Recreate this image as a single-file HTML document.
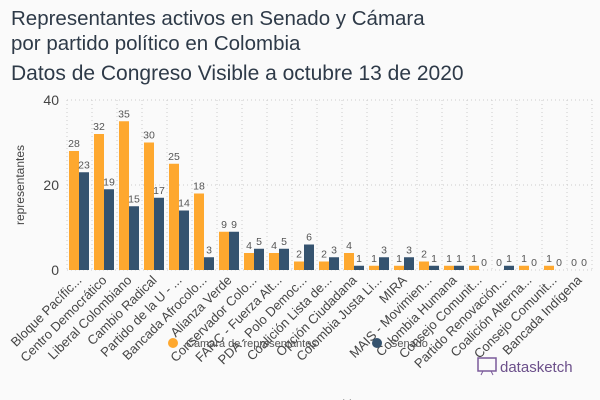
<!DOCTYPE html>
<html><head><meta charset="utf-8"><style>
html,body{margin:0;padding:0;background:#fafafa;}
svg{display:block;font-family:"Liberation Sans",sans-serif;}
</style></head><body>
<svg id="c" width="600" height="400">
<rect width="600" height="400" fill="#fafafa"/>
<text x="11" y="25" font-size="20.5" fill="#2e3a48">Representantes activos en Senado y Cámara</text>
<text x="11" y="50" font-size="20.5" fill="#2e3a48">por partido político en Colombia</text>
<text x="11" y="80" font-size="21" fill="#2e3a48">Datos de Congreso Visible a octubre 13 de 2020</text>
<text transform="translate(24,185) rotate(-90)" text-anchor="middle" font-size="12" fill="#444">representantes</text>
<g id="grid"></g>
<g id="bars"></g>
<g id="xl"></g>
<g>
<circle cx="173" cy="343" r="5" fill="#fea82f"/>
<text x="186" y="347" font-size="11" fill="#555">Cámara de representantes</text>
<circle cx="377" cy="343" r="5" fill="#35536f"/>
<text x="390" y="347" font-size="11" fill="#555">Senado</text>
</g>
<g>
<rect x="478" y="358" width="18" height="13" fill="none" stroke="#7a5a9a" stroke-width="1.5"/>
<line x1="483" y1="371" x2="481" y2="375" stroke="#7a5a9a"/>
<line x1="491" y1="371" x2="493" y2="375" stroke="#7a5a9a"/>
<text x="500" y="372" font-size="15" fill="#6b4f8a">datasketch</text>
</g>
<text x="340" y="408" text-anchor="middle" font-size="12" fill="#444">partido</text>
</svg>
<script>
const categories=["Bloque Pacífic...","Centro Democrático","Liberal Colombiano","Cambio Radical","Partido de la U - ...","Bancada Afrocolo...","Alianza Verde","Conservador Colo...","FARC - Fuerza Alt...","PDA - Polo Democ...","Coalición Lista de...","Opción Ciudadana","Colombia Justa Li...","MIRA","MAIS - Movimien...","Colombia Humana","Consejo Comunit...","Partido Renovación...","Coalición Alterna...","Consejo Comunit...","Bancada Indígena"];
const camara=[28,32,35,30,25,18,9,4,4,2,2,4,1,1,2,1,1,0,1,1,0];
const senado=[23,19,15,17,14,3,9,5,5,6,3,1,3,3,1,1,0,1,0,0,0];
const yTicks=[0,20,40];
const NS="http://www.w3.org/2000/svg";
const x0=67,colW=25,yTop=100,yBot=270,yMax=40;
const y=v=>yBot-(v/yMax)*(yBot-yTop);
const xc=i=>x0+i*colW;
const x1=x0+categories.length*colW;
function mk(t,a,p){const e=document.createElementNS(NS,t);for(const k in a)e.setAttribute(k,a[k]);p.appendChild(e);return e;}
const grid=document.getElementById('grid'),bars=document.getElementById('bars'),xl=document.getElementById('xl');
yTicks.forEach(t=>{
 const l=mk('line',{x1:x0,x2:x1,y1:y(t),y2:y(t),stroke:'#ccc','stroke-dasharray':'1,3'},grid);
 
 
 const tx=mk('text',{x:x0-8,y:y(t)+5,'text-anchor':'end','font-size':'14',fill:'#444'},grid);
 tx.textContent=t;
 
 
});
for(let i=0;i<=categories.length;i++){
 const l=mk('line',{x1:xc(i),x2:xc(i),y1:yTop,y2:yBot,stroke:'#ccc','stroke-dasharray':'1,3'},grid);
 
 
}
categories.forEach((c,i)=>{
 const bx=xc(i)+2;
 [[camara[i],'#fea82f',bx,'bar-camara'],[senado[i],'#35536f',bx+10,'bar-senado']].forEach(([v,col,x,n])=>{
  const r=mk('rect',{x:x,y:y(v),width:10,height:yBot-y(v),fill:col},bars);
  
  
  const t=mk('text',{x:x+5,y:y(v)-4,'text-anchor':'middle','font-size':'10.5',fill:'#555'},bars);
  t.textContent=v;
  
  
 });
 const cx=xc(i)+colW/2+3;
 const t=mk('text',{transform:`translate(${cx},${yBot+11}) rotate(-45)`,'text-anchor':'end','font-size':'13',fill:'#444'},xl);
 t.textContent=c;
 
 
});
</script>
</body></html>
